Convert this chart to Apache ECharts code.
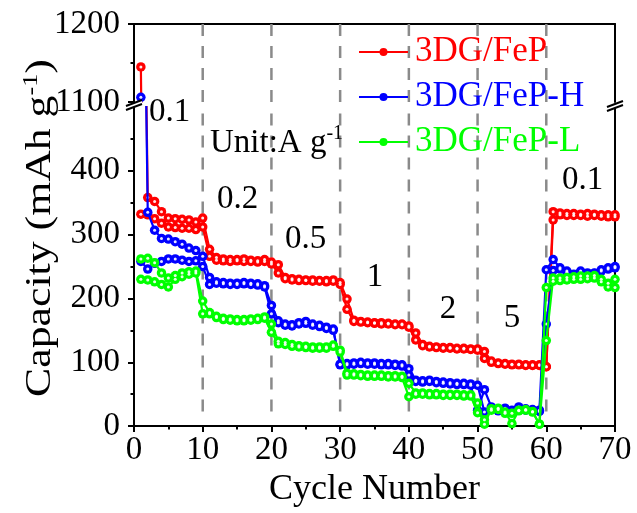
<!DOCTYPE html>
<html><head><meta charset="utf-8">
<script src="https://cdn.jsdelivr.net/npm/echarts@6/dist/echarts.min.js"></script>
<style>html,body{margin:0;padding:0;background:#fff}#c{width:637px;height:513px}</style>
</head><body><div id="c"></div>
<script>
// ---------------- DATA ----------------
const cycles = [1,2,3,4,5,6,7,8,9,10,11,12,13,14,15,16,17,18,19,20,21,22,23,24,25,26,27,28,29,30,
  31,32,33,34,35,36,37,38,39,40,41,42,43,44,45,46,47,48,49,50,51,52,53,54,55,56,57,58,59,60,
  61,62,63,64,65,66,67,68,69,70];

// 3DG/FeP (red) - two traces
const fepA = [1145,358,352,336,326,325,324,323,320,326, 277,264,262,261,261,262,260,259,261,257,
  253,233,231,230,229,229,228,228,229,225, 199,166,164,163,162,162,161,160,160,157,
  146,128,125,124,123,123,122,122,121,121, 117,102,99,98,97,97,96,96,96,93,
  336,334,333,333,332,333,332,331,331,331];
const fepB = [332,331,325,318,312,311,310,310,308,312, 266,260,259,258,259,258,258,257,258,254,
  240,231,229,228,228,227,227,226,227,222, 183,164,163,162,161,160,160,159,159,155,
  135,126,124,123,122,122,121,121,120,119, 106,100,98,97,96,96,95,95,95,93,
  323,331,330,330,330,329,330,329,328,328];

// 3DG/FeP-H (blue)
const fepHA = [1106,335,307,294,293,289,285,279,275,266, 233,226,225,224,224,225,224,223,220,189,
  165,160,159,162,164,160,158,155,152,97, 98,99,100,99,99,98,98,97,96,90,
  72,71,72,70,69,68,67,67,66,64, 22,26,26,28,25,30,27,26,25,245,
  261,248,243,238,243,240,240,245,248,250];
const fepHB = [258,246,255,258,262,262,260,258,259,250, 222,224,223,222,222,223,222,221,218,176,
  162,158,157,160,161,158,156,153,150,96, 96,97,98,97,97,96,96,95,94,80,
  70,69,70,68,67,66,65,65,64,25, 57,30,24,27,22,28,25,24,23,160,
  244,246,241,237,241,238,239,243,246,248];

// 3DG/FeP-L (green)
const fepLA = [262,263,256,240,232,236,240,242,243,196, 178,172,169,168,167,167,168,169,171,160,
  133,131,128,126,125,124,124,124,127,119, 83,82,81,80,80,80,79,79,78,67,
  52,52,51,51,50,50,50,49,49,36, 3,27,28,22,4,25,26,23,3,134,
  232,232,233,234,235,235,236,230,224,230];
const fepLB = [230,229,226,222,218,230,234,238,240,176, 176,170,167,166,165,165,166,167,169,147,
  129,128,125,124,123,122,122,122,125,116, 80,80,79,78,78,78,77,77,76,46,
  50,50,49,49,48,48,48,47,47,21, 10,25,26,20,20,24,25,22,3,217,
  227,228,229,230,230,231,232,226,218,217];

const seriesNames = ['3DG/FeP','3DG/FeP-H','3DG/FeP-L'];
const seriesColors = ['#ff0000','#0000ff','#00ff00'];
const rateBoundaries = [10,20,30,40,50,60];
const rateLabels = ['0.1','0.2','0.5','1','2','5','0.1'];
const xTicks = [0,10,20,30,40,50,60,70];
const yLowerTicks = [0,100,200,300,400];
const yUpperTicks = [1100,1200];

// ---------------- LAYOUT ----------------
const FONT = '"Liberation Serif", "Times New Roman", serif';
const dashLow = 23;
const chart = echarts.init(document.getElementById('c'), null, {renderer:'canvas', width:637, height:513});

function pairs(arr){ return cycles.map((c,i)=>[c, arr[i]]); }
const axisLine = {show:true, onZero:false, lineStyle:{color:'#000', width:2}};
const tick = {show:true, inside:false, length:6, lineStyle:{color:'#000', width:2}};
const minor = {show:true, splitNumber:2, length:3.5, lineStyle:{color:'#000', width:2}};
const lbl = {fontFamily:FONT, fontSize:33, color:'#000'};

const series = [];
rateBoundaries.forEach(b=>{
  series.push({type:'line', xAxisIndex:0, yAxisIndex:0, data:[[b,dashLow],[b,500]], symbol:'none', silent:true,
    lineStyle:{color:'#8a8a8a', width:2.5, type:[12,10]}, z:1, animation:false});
  series.push({type:'line', xAxisIndex:1, yAxisIndex:2, data:[[b,1100],[b,1200]], symbol:'none', silent:true,
    lineStyle:{color:'#8a8a8a', width:2.5, type:[12,10]}, z:1, animation:false});
});
const traces = [[fepA,fepB],[fepHA,fepHB],[fepLA,fepLB]];
traces.forEach((pair,k)=>{
  const col = seriesColors[k];
  pair.forEach((arr,j)=>{
    const nm = j===0 ? seriesNames[k] : seriesNames[k]+' ';
    [[0,0],[1,2]].forEach(([xi,yi])=>{
      series.push({name:nm, type:'line', xAxisIndex:xi, yAxisIndex:yi, data:pairs(arr), clip:true,
        symbol:'circle', symbolSize:9.5, showAllSymbol:true,
        lineStyle:{color:col, width:2.2}, itemStyle:{color:col, borderWidth:0}, z:2+2*k, animation:false});
      // glossy highlight dot on each marker
      series.push({name:'hl'+k+j+xi, type:'scatter', xAxisIndex:xi, yAxisIndex:yi, data:pairs(arr), clip:true,
        symbol:'circle', symbolSize:3, silent:true, itemStyle:{color:'#ffffff', opacity:0.9}, z:3+2*k, animation:false});
    });
  });
});

const graphic = [];
graphic.push({type:'text', x:41, y:228, rotation:Math.PI/2, scaleX:1.25, style:{
  text:'{a|Capacity (mAh g}{s|-1}{a|)}', align:'center', verticalAlign:'middle',
  rich:{a:{fontFamily:FONT, fontSize:35, fill:'#000', lineHeight:40}, s:{fontFamily:FONT, fontSize:21, fill:'#000', verticalAlign:'top', lineHeight:40}}}});
const rateLabelPos = [[149,112,'left'],[217,199,'left'],[285,239,'left'],[375,277,'center'],[448,309,'center'],[512,318,'center'],[562,180,'left']];
rateLabels.forEach((t,i)=>{
  const p = rateLabelPos[i];
  graphic.push({type:'text', x:p[0], y:p[1], z:10, style:{text:'{a|'+t+'}', align:p[2], verticalAlign:'middle',
    rich:{a:{fontFamily:FONT, fontSize:33, fill:'#000'}}}});
});
graphic.push({type:'text', x:210, y:143, z:10, style:{text:'{a|Unit:A g}{s|-1}', align:'left', verticalAlign:'middle',
  rich:{a:{fontFamily:FONT, fontSize:33, fill:'#000', lineHeight:38}, s:{fontFamily:FONT, fontSize:20, fill:'#000', verticalAlign:'top', lineHeight:38}}}});
function brk(cx, cy, hw){
  graphic.push({type:'polygon', z:20, shape:{points:[[cx-hw,cy+1],[cx+hw,cy-5],[cx+hw,cy-1],[cx-hw,cy+5]]}, style:{fill:'#fff'}});
  graphic.push({type:'line', z:21, shape:{x1:cx-hw,y1:cy+1,x2:cx+hw,y2:cy-5}, style:{stroke:'#000', lineWidth:2}});
  graphic.push({type:'line', z:21, shape:{x1:cx-hw,y1:cy+5,x2:cx+hw,y2:cy-1}, style:{stroke:'#000', lineWidth:2}});
}
brk(134,105,8);
brk(615,106,8);

chart.setOption({
  animation:false,
  backgroundColor:'#fff',
  textStyle:{fontFamily:FONT},
  grid:[{left:134, right:22, top:107, bottom:83}, {left:134, right:22, top:24, height:78}],
  xAxis:[
    {gridIndex:0, type:'value', min:0, max:70, interval:10, position:'bottom', axisLine, axisTick:tick, minorTick:minor,
      axisLabel:Object.assign({margin:8}, lbl), splitLine:{show:false},
      name:'Cycle Number', nameLocation:'middle', nameGap:42, nameTextStyle:{fontFamily:FONT, fontSize:36, color:'#000'}},
    {gridIndex:1, type:'value', min:0, max:70, position:'top', axisLine, axisTick:{show:false}, axisLabel:{show:false}, splitLine:{show:false}}
  ],
  yAxis:[
    {gridIndex:0, type:'value', min:0, max:500, interval:100, position:'left', axisLine, axisTick:tick, minorTick:minor,
      axisLabel:Object.assign({margin:14, formatter:v=> yLowerTicks.includes(v)? String(v):''}, lbl), splitLine:{show:false}},
    {gridIndex:0, type:'value', min:0, max:500, position:'right', axisLine, axisTick:{show:false}, axisLabel:{show:false}, splitLine:{show:false}},
    {gridIndex:1, type:'value', min:1100, max:1200, interval:100, position:'left', axisLine, axisTick:tick, minorTick:minor,
      axisLabel:Object.assign({margin:14, formatter:v=> yUpperTicks.includes(v)? String(v):''}, lbl), splitLine:{show:false}},
    {gridIndex:1, type:'value', min:1100, max:1200, position:'right', axisLine, axisTick:{show:false}, axisLabel:{show:false}, splitLine:{show:false}}
  ],
  legend:{orient:'vertical', left:358, top:34, itemWidth:49, itemHeight:10, itemGap:9, padding:0,
    textStyle:{fontFamily:FONT, fontSize:35, lineHeight:36, padding:[0,0,0,2]},
    data:seriesNames.map((n,i)=>({name:n, textStyle:{color:seriesColors[i], fontFamily:FONT, fontSize:35}}))},
  series,
  graphic
});
</script></body></html>
